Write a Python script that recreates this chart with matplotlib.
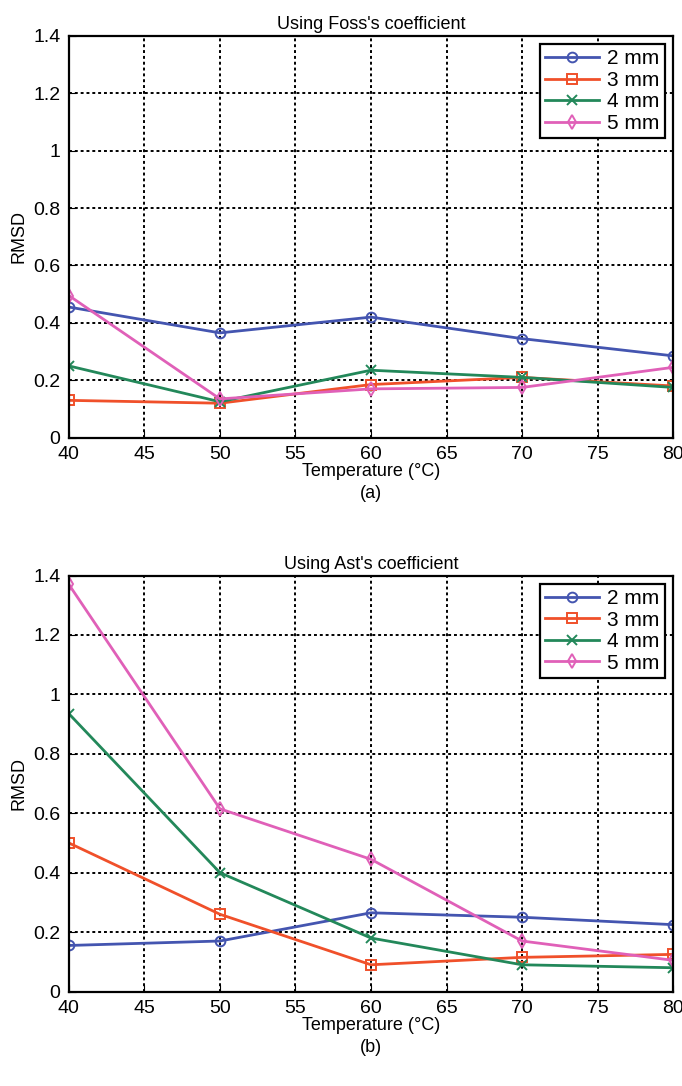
import matplotlib
matplotlib.use('Agg')
import matplotlib.pyplot as plt

plt.rcParams['font.family'] = ['Liberation Sans', 'DejaVu Sans']

# temperatures (°C)
temps = [40, 50, 60, 70, 80]
labels = ['2 mm', '3 mm', '4 mm', '5 mm']

# (a) Foss's coefficient
foss_2mm = [0.455, 0.365, 0.42, 0.345, 0.285]
foss_3mm = [0.13, 0.12, 0.185, 0.21, 0.18]
foss_4mm = [0.25, 0.125, 0.235, 0.21, 0.175]
foss_5mm = [0.495, 0.135, 0.17, 0.175, 0.245]

# (b) Ast's coefficient
ast_2mm = [0.155, 0.17, 0.265, 0.25, 0.225]
ast_3mm = [0.5, 0.26, 0.09, 0.115, 0.125]
ast_4mm = [0.935, 0.4, 0.18, 0.09, 0.08]
ast_5mm = [1.37, 0.615, 0.445, 0.17, 0.105]

colors = ['#4455b0', '#f0502a', '#23885a', '#e060b8']
markers = ['o', 's', 'x', 'd']

fig = plt.figure(figsize=(6.82, 10.86), dpi=100)
ax1 = fig.add_axes([0.101, 0.597, 0.886, 0.370])
ax2 = fig.add_axes([0.101, 0.087, 0.886, 0.383])


def draw(ax, series, title, tag):
    for vals, c, m, lab in zip(series, colors, markers, labels):
        ax.plot(temps, vals, color=c, marker=m, markersize=7, markerfacecolor='none',
                markeredgewidth=1.4, linewidth=2, label=lab)
    ax.set_xlim(40, 80)
    ax.set_ylim(0, 1.4)
    ax.set_xticks(range(40, 81, 5))
    ax.set_yticks([0, 0.2, 0.4, 0.6, 0.8, 1, 1.2, 1.4])
    ax.set_yticklabels(['0', '0.2', '0.4', '0.6', '0.8', '1', '1.2', '1.4'])
    ax.grid(True, color='black', linestyle=(0, (1.5, 1.5)), linewidth=1.4)
    ax.tick_params(labelsize=14, direction='in', length=5, pad=6)
    for s in ax.spines.values():
        s.set_linewidth(1.6)
    ax.set_title(title, fontsize=13, pad=5)
    ax.set_ylabel('RMSD', fontsize=13, labelpad=4)
    ax.set_xlabel('Temperature (°C)\n(' + tag + ')', fontsize=13, labelpad=0, linespacing=1.4)
    leg = ax.legend(loc='upper right', fontsize=15, fancybox=False, framealpha=1,
                    edgecolor='black', handlelength=2.6, borderpad=0.25,
                    labelspacing=0.12, borderaxespad=0.4, handletextpad=0.4)
    leg.get_frame().set_linewidth(1.6)


draw(ax1, [foss_2mm, foss_3mm, foss_4mm, foss_5mm], "Using Foss's coefficient", 'a')
draw(ax2, [ast_2mm, ast_3mm, ast_4mm, ast_5mm], "Using Ast's coefficient", 'b')

fig.savefig('out.png', dpi=100)
